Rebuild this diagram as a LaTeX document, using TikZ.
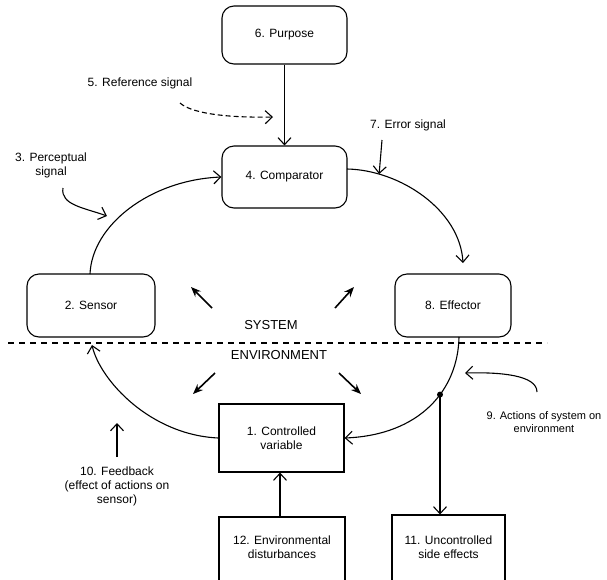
\documentclass[tikz,border=0pt]{standalone}
\usepackage{fontspec}
\setmainfont{Liberation Sans}
\usetikzlibrary{arrows.meta,calc}
\begin{document}
\begin{tikzpicture}[x=1pt,y=-1pt,
  font=\fontsize{12}{14}\selectfont,
  line/.style={line width=1.1pt},
  open/.style={line, -{Straight Barb[length=7pt,width=13pt,line width=1.1pt]}},
  solidarr/.style={line width=1.6pt, -{Stealth[length=10pt,width=8pt]}},
  rbox/.style={draw, line width=1.1pt, rounded corners=12pt, align=center},
  sbox/.style={draw, line width=1.1pt, align=center},
  lbl/.style={align=center, inner sep=0pt}]
\clip (0,0) rectangle (607,579);
\fill[white] (0,0) rectangle (607,579);

% boxes
\node[rbox, minimum width=125pt, minimum height=58pt] (purpose) at (284.5,35) {6. Purpose};
\node[rbox, minimum width=125pt, minimum height=62pt] (comp) at (284.5,177) {4. Comparator};
\node[rbox, minimum width=128pt, minimum height=63pt] (sensor) at (91,305.5) {2. Sensor};
\node[rbox, minimum width=116pt, minimum height=63pt] (effector) at (453,305.5) {8. Effector};
\node[sbox, minimum width=125pt, minimum height=68pt] (cv) at (281.5,438) {1. Controlled\\variable};
\node[sbox, minimum width=126pt, minimum height=80pt] (dist) at (282,557) {};
\node[sbox, minimum width=113pt, minimum height=80pt] (side) at (448.5,555) {};
\node[lbl] (distlbl) at (282,547) {12. Environmental\\disturbances};
\node[lbl] (sidelbl) at (448.5,547) {11. Uncontrolled\\side effects};

% system / environment
\draw[line, dash pattern=on 6pt off 5pt] (8,343) -- (547,343);
\node[lbl, font=\fontsize{13}{15}\selectfont] (system) at (271,325) {SYSTEM};
\node[lbl, font=\fontsize{13}{15}\selectfont] (environment) at (279,355) {ENVIRONMENT};

% annotation labels
\node[lbl] (reflbl) at (140,83) {5. Reference signal};
\node[lbl] (errlbl) at (408,125) {7. Error signal};
\node[lbl] (perclbl) at (51,165) {3. Perceptual\\signal};
\node[lbl, font=\fontsize{11}{13}\selectfont] (actlbl) at (544,422) {9. Actions of system on\\environment};
\node[lbl] (fblbl) at (117,486) {10. Feedback\\(effect of actions on\\sensor)};

% named points
\coordinate (s1) at (90,274);
\coordinate (c1) at (347,169);
\coordinate (eff1) at (463,263);
\coordinate (e0) at (459,337);
\coordinate (fbtip) at (92,345);
\coordinate (refstart) at (180,103);
\coordinate (reftip) at (273,117);
\coordinate (errstart) at (382,140);
\coordinate (percstart) at (63,188);
\coordinate (perctip) at (107,216);
\coordinate (actstart) at (537,392);
\coordinate (acttip) at (465,373);
\coordinate (fbstart) at (117,457);
\coordinate (fbend) at (117,423);

% main loop
\draw[open] (purpose.south) -- (comp.north);
\draw[open] (s1) .. controls (92,225) and (150,180) .. (comp.west);
\draw[open] (c1) .. controls (400,170) and (460,210) .. coordinate[pos=0.2] (errpt) (eff1);
\draw[open] (e0) .. controls (458,390) and (420,435) .. coordinate[pos=0.4] (dot) (cv.east);
\draw[open] (cv.west) .. controls (150,435) and (100,380) .. (fbtip);
\fill (dot) circle (3pt);
\draw[open] (dot) -- (dot |- side.north);
\draw[open] (dist.north -| 280,0) -- (cv.south -| 280,0);

% small system/environment arrows
\draw[solidarr] (212,308) -- (191,287);
\draw[solidarr] (335,308) -- (354,287);
\draw[solidarr] (215,373) -- (193,394);
\draw[solidarr] (339,373) -- (361,394);

% annotation arrows
\draw[open, dash pattern=on 5pt off 3pt] (refstart) .. controls (190,112) and (220,118) .. (reftip);
\draw[open] (errstart) -- (errpt);
\draw[open] (percstart) .. controls (60,205) and (85,208) .. (perctip);
\draw[open] (actstart) .. controls (537,375) and (500,372) .. (acttip);
\draw[open] (fbstart) -- (fbend);
\end{tikzpicture}
\end{document}
